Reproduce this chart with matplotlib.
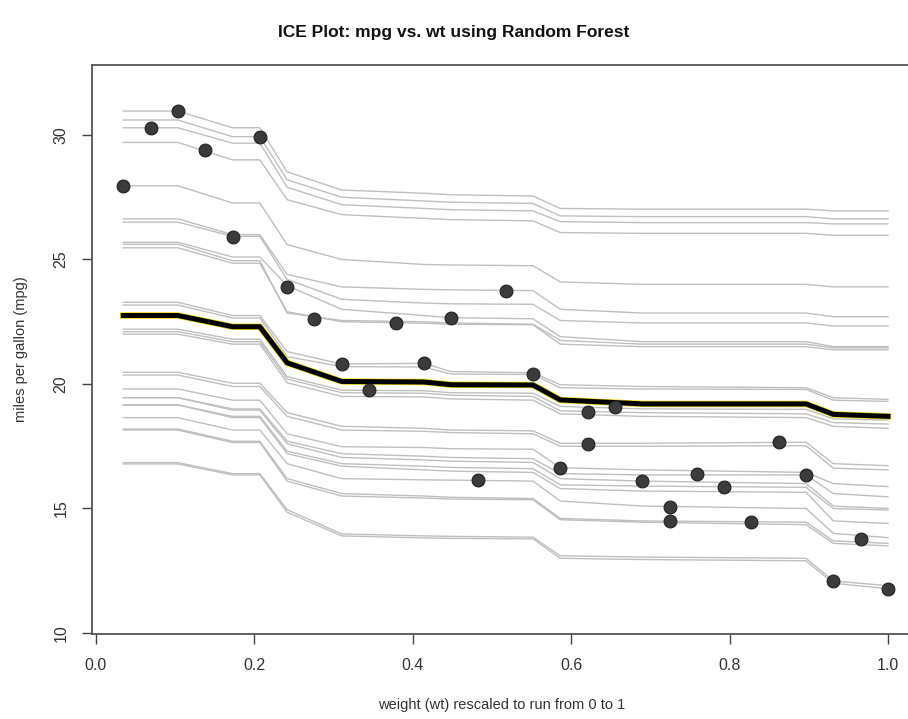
import numpy as np
import matplotlib
matplotlib.use("Agg")
import matplotlib.pyplot as plt

plt.rcParams['font.family'] = ['Liberation Sans', 'DejaVu Sans']

# grid positions (rank of wt among 29 distinct values) where the ICE curves bend
knot_rank = [1, 3, 5, 6, 7, 9, 12, 13, 16, 17, 20, 26, 27, 29]

# one row per car: predicted mpg at each knot
ice_curves = [
    [30.96, 30.96, 30.29, 30.29, 28.52, 27.79, 27.66, 27.60, 27.55, 27.05, 27.02, 27.02, 26.95, 26.95],
    [30.60, 30.60, 29.93, 29.93, 28.20, 27.50, 27.35, 27.30, 27.25, 26.75, 26.72, 26.72, 26.63, 26.63],
    [30.29, 30.29, 29.67, 29.67, 27.90, 27.20, 27.05, 27.00, 26.95, 26.52, 26.48, 26.48, 26.43, 26.43],
    [29.70, 29.70, 29.00, 29.00, 27.40, 26.80, 26.65, 26.60, 26.55, 26.08, 26.05, 26.05, 25.97, 25.97],
    [27.96, 27.96, 27.27, 27.27, 25.60, 25.00, 24.80, 24.78, 24.75, 24.10, 24.00, 24.00, 23.90, 23.90],
    [26.63, 26.63, 26.00, 26.00, 24.40, 23.90, 23.80, 23.78, 23.75, 23.00, 22.85, 22.85, 22.70, 22.70],
    [26.50, 26.50, 25.93, 25.93, 24.20, 23.40, 23.25, 23.22, 23.20, 22.55, 22.45, 22.45, 22.33, 22.33],
    [25.69, 25.69, 25.10, 25.10, 23.95, 23.00, 22.75, 22.66, 22.62, 21.90, 21.70, 21.70, 21.50, 21.50],
    [25.61, 25.61, 24.95, 24.95, 22.85, 22.55, 22.50, 22.45, 22.40, 21.75, 21.60, 21.60, 21.45, 21.45],
    [25.47, 25.47, 24.85, 24.85, 22.90, 22.50, 22.44, 22.40, 22.38, 21.60, 21.50, 21.50, 21.37, 21.37],
    [23.28, 23.28, 22.75, 22.75, 21.30, 20.80, 20.83, 20.50, 20.45, 19.97, 19.90, 19.85, 19.45, 19.38],
    [23.17, 23.17, 22.65, 22.65, 21.10, 20.70, 20.68, 20.40, 20.38, 19.85, 19.80, 19.78, 19.35, 19.30],
    [22.20, 22.20, 21.80, 21.80, 20.30, 19.75, 19.73, 19.65, 19.63, 19.10, 19.00, 18.98, 18.60, 18.55],
    [22.10, 22.10, 21.70, 21.70, 20.20, 19.65, 19.63, 19.55, 19.50, 18.92, 18.85, 18.80, 18.45, 18.39],
    [22.00, 22.00, 21.60, 21.60, 20.05, 19.50, 19.48, 19.40, 19.35, 18.80, 18.70, 18.65, 18.30, 18.22],
    [20.47, 20.47, 20.03, 20.03, 18.85, 18.30, 18.22, 18.15, 18.12, 17.62, 17.62, 17.66, 16.80, 16.72],
    [20.36, 20.36, 19.90, 19.90, 18.70, 18.15, 18.10, 18.05, 18.00, 17.50, 17.50, 17.52, 16.62, 16.55],
    [19.80, 19.80, 19.35, 19.35, 18.00, 17.48, 17.45, 17.40, 17.38, 16.64, 16.55, 16.45, 16.00, 15.88],
    [19.45, 19.45, 19.00, 19.00, 17.70, 17.20, 17.10, 17.05, 17.00, 16.40, 16.35, 16.35, 15.60, 15.47],
    [19.45, 19.45, 18.95, 18.95, 17.60, 17.05, 16.95, 16.90, 16.85, 16.20, 16.10, 16.00, 15.10, 15.00],
    [19.16, 19.16, 18.70, 18.70, 17.30, 16.80, 16.70, 16.65, 16.60, 15.95, 15.90, 15.85, 15.00, 14.94],
    [19.16, 19.16, 18.65, 18.65, 17.20, 16.70, 16.55, 16.50, 16.45, 15.80, 15.70, 15.65, 14.50, 14.40],
    [18.65, 18.65, 18.15, 18.15, 16.80, 16.20, 16.15, 16.14, 16.10, 15.30, 15.10, 15.00, 14.00, 13.83],
    [18.19, 18.19, 17.70, 17.70, 16.20, 15.60, 15.50, 15.45, 15.40, 14.60, 14.50, 14.45, 13.70, 13.60],
    [18.15, 18.15, 17.65, 17.65, 16.10, 15.50, 15.42, 15.38, 15.35, 14.55, 14.45, 14.35, 13.60, 13.50],
    [16.84, 16.84, 16.40, 16.40, 14.95, 13.98, 13.90, 13.88, 13.85, 13.10, 13.05, 13.00, 12.09, 11.90],
    [16.79, 16.79, 16.35, 16.35, 14.85, 13.90, 13.82, 13.80, 13.78, 13.00, 12.95, 12.90, 12.00, 11.78],
]

# partial dependence (average) curve
pdp_curve = [22.75, 22.75, 22.30, 22.30, 20.85, 20.10, 20.08, 19.97, 19.96, 19.36, 19.20, 19.20, 18.78, 18.70]

# observed cars: rank of wt and fitted mpg
obs_rank = [1, 2, 3, 4, 5, 6, 7, 8, 9, 10, 11, 12, 13, 14, 15, 16, 17, 18, 18,
            19, 20, 21, 21, 22, 23, 24, 25, 26, 27, 28, 29]
obs_mpg = [27.96, 30.29, 30.96, 29.40, 25.92, 29.93, 23.91, 22.61, 20.79, 19.76,
           22.44, 20.83, 22.66, 16.14, 23.75, 20.39, 16.64, 18.89, 17.58, 19.09,
           16.10, 15.07, 14.50, 16.39, 15.88, 14.45, 17.66, 16.35, 12.09, 13.78, 11.78]

n_levels = 29
knot_x = np.array(knot_rank) / n_levels
obs_x = np.array(obs_rank) / n_levels

fig = plt.figure(figsize=(9.08, 7.19), dpi=100)
ax = fig.add_axes([92 / 908, 85 / 719, 820 / 908, 569 / 719])

for curve in ice_curves:
    ax.plot(knot_x, curve, color='#bfbfbf', lw=1.0, zorder=1)

ax.plot(knot_x, pdp_curve, color='#f2d500', lw=4.6, zorder=2, solid_joinstyle='round')
ax.plot(knot_x, pdp_curve, color='black', lw=3.6, zorder=3, solid_joinstyle='round')

ax.scatter(obs_x, obs_mpg, s=85, color='#3b3b3b', edgecolors='#222222',
           linewidths=0.8, zorder=4)

ax.set_xlim(-0.005, 1.0303)
ax.set_ylim(9.96, 32.81)
ax.set_xticks([0.0, 0.2, 0.4, 0.6, 0.8, 1.0])
ax.set_xticklabels(['0.0', '0.2', '0.4', '0.6', '0.8', '1.0'])
ax.set_yticks([10, 15, 20, 25, 30])
for lab in ax.get_yticklabels():
    lab.set_rotation(90)
    lab.set_va('center')

ax.tick_params(direction='out', length=7, width=1.0, colors='#444444',
               labelcolor='#333333', labelsize=11.5, pad=10)
for sp in ax.spines.values():
    sp.set_color('#555555')
    sp.set_linewidth(1.3)

ax.set_xlabel('weight (wt) rescaled to run from 0 to 1', fontsize=10.5,
              color='#333333', labelpad=18)
ax.set_ylabel('miles per gallon (mpg)', fontsize=10.5, color='#333333', labelpad=18)
fig.text(0.5, 0.955, 'ICE Plot: mpg vs. wt using Random Forest', ha='center',
         va='center', fontsize=12.5, fontweight='bold', color='#111111')

fig.savefig('out.png', dpi=100)
